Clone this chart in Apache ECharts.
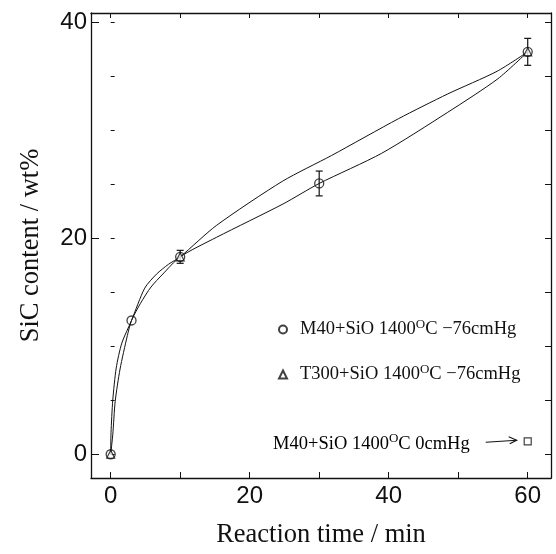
<!DOCTYPE html>
<html>
<head>
<meta charset="utf-8">
<script src="https://cdn.jsdelivr.net/npm/echarts@6/dist/echarts.min.js"></script>
<style>html,body{margin:0;padding:0;background:#fff;}#c{width:556px;height:554px;}</style>
</head>
<body>
<div id="c"></div>
<script>
// ---- data ----
const m40Time = [0, 3, 10, 30, 60];
const m40Sic = [0, 12.4, 18.3, 25.1, 37.3];
const t300Time = [0, 10, 60];
const t300Sic = [0, 18.3, 37.3];
const vacTime = [60];
const vacSic = [1.2];
const errTime = [10, 30, 60];
const errCenter = [18.3, 25.1, 37.3];
const errHalf = [0.6, 1.15, 1.25];
// fitted curves
const fitAx = [0, 0.05, 0.3, 0.8, 1.6, 3, 4.9, 6.6, 8.3, 10, 15.2, 24.7, 31.8, 41.4, 48.5, 55.6, 60];
const fitAy = [0, 2.0, 5.0, 8.0, 10.3, 12.4, 15.4, 16.7, 17.6, 18.3, 21.2, 25.3, 27.7, 31.1, 33.4, 35.5, 37.3];
const fitBx = [0, 0.3, 0.65, 1.35, 2.4, 3, 4.3, 5.8, 7.5, 10, 15.2, 24.8, 30, 39, 48.5, 55.7, 60];
const fitBy = [0, 1.8, 4.9, 7.9, 11.0, 12.4, 14.0, 15.5, 16.7, 18.3, 20.1, 23.2, 25.1, 27.9, 31.7, 34.8, 37.3];
// axes
const xTicks = [0, 10, 20, 30, 40, 50, 60];
const xLabels = [0, 20, 40, 60];
const yMajor = [0, 20, 40];
const yMinor = [0, 5, 10, 15, 20, 25, 30, 35, 40];
const xTitle = 'Reaction time / min';
const yTitle = 'SiC content / wt%';
const names = ['M40', 'T300', 'M40vac'];
const legendLabels = {
  M40: ['M40+SiO 1400', 'O', 'C \u221276cmHg'],
  T300: ['T300+SiO 1400', 'O', 'C \u221276cmHg'],
  M40vac: ['M40+SiO 1400', 'O', 'C 0cmHg']
};

const XMIN = -2.83, XMAX = 63.35, YMIN = -2.2, YMAX = 40.9;
const zip = (a, b) => a.map((v, i) => [v, b[i]]);
const lineStyle = {color: '#111', width: 1.3};
const serif = 'Liberation Serif';
const sans = 'Liberation Sans';

const chart = echarts.init(document.getElementById('c'), null, {renderer: 'canvas'});
const rich = {
  g: {width: 8},
  t: {fontFamily: serif, fontSize: 18.5, color: '#111'},
  s: {fontFamily: serif, fontSize: 13, color: '#111', padding: [0, 0, 10, 0]}
};
const fmt = n => '{t|' + legendLabels[n][0] + '}{s|' + legendLabels[n][1] + '}{t|' + legendLabels[n][2] + '}';
const fmtLegend = n => '{g|}' + fmt(n);

const option = {
  animation: false,
  backgroundColor: '#fff',
  grid: {left: 91, right: 5, top: 13, bottom: 70, containLabel: false},
  xAxis: [
    {type: 'value', position: 'bottom', min: XMIN, max: XMAX,
     axisLine: {onZero: false, lineStyle},
     axisTick: {inside: true, length: 6, customValues: xTicks, lineStyle: {color: '#111', width: 1}},
     axisLabel: {customValues: xLabels, fontFamily: sans, fontSize: 24, color: '#111', margin: 6},
     splitLine: {show: false},
     name: xTitle, nameLocation: 'middle', nameGap: 44,
     nameTextStyle: {fontFamily: serif, fontSize: 26.5, color: '#111'}},
    {type: 'value', position: 'top', min: XMIN, max: XMAX,
     axisLine: {onZero: false, lineStyle},
     axisTick: {inside: true, length: 5, customValues: xTicks, lineStyle: {color: '#111', width: 1}},
     axisLabel: {show: false}, splitLine: {show: false}}
  ],
  yAxis: [
    {type: 'value', position: 'left', min: YMIN, max: YMAX,
     axisLine: {onZero: false, lineStyle},
     axisTick: {inside: true, length: 8, customValues: yMajor, lineStyle: {color: '#111', width: 1}},
     axisLabel: {customValues: yMajor, fontFamily: sans, fontSize: 24, color: '#111', margin: 4},
     splitLine: {show: false},
     name: yTitle, nameLocation: 'middle', nameGap: 46,
     nameTextStyle: {fontFamily: serif, fontSize: 26.5, color: '#111'}},
    {type: 'value', position: 'left', min: YMIN, max: YMAX,
     axisLine: {show: false},
     axisTick: {inside: true, length: 4, customValues: yMinor, lineStyle: {color: '#111', width: 1}},
     axisLabel: {show: false}, splitLine: {show: false}},
    {type: 'value', position: 'right', min: YMIN, max: YMAX,
     axisLine: {onZero: false, lineStyle},
     axisTick: {inside: true, length: 6, customValues: yMinor, lineStyle: {color: '#111', width: 1}},
     axisLabel: {show: false}, splitLine: {show: false}}
  ],
  legend: {
    orient: 'vertical', left: 273, top: 313, itemGap: 24,
    itemWidth: 8, itemHeight: 8,
    data: [{name: names[0], icon: 'circle'}, {name: names[1], icon: 'triangle'}],
    formatter: fmtLegend, textStyle: {rich}
  },
  series: [
    {type: 'line', data: zip(fitAx, fitAy), smooth: 0.25, symbol: 'none',
     lineStyle: {color: '#111', width: 1}, silent: true, z: 2},
    {type: 'line', data: zip(fitBx, fitBy), smooth: 0.25, symbol: 'none',
     lineStyle: {color: '#111', width: 1}, silent: true, z: 2},
    {type: 'custom', z: 3,
     data: errTime.map((t, i) => [t, errCenter[i] - errHalf[i], errCenter[i] + errHalf[i]]),
     renderItem: (params, api) => {
       const lo = api.coord([api.value(0), api.value(1)]);
       const hi = api.coord([api.value(0), api.value(2)]);
       const w = 3.5;
       const st = {stroke: '#111', lineWidth: 1.2};
       return {type: 'group', children: [
         {type: 'line', shape: {x1: lo[0], y1: lo[1], x2: hi[0], y2: hi[1]}, style: st},
         {type: 'line', shape: {x1: lo[0] - w, y1: lo[1], x2: lo[0] + w, y2: lo[1]}, style: st},
         {type: 'line', shape: {x1: hi[0] - w, y1: hi[1], x2: hi[0] + w, y2: hi[1]}, style: st}
       ]};
     }},
    {name: names[1], type: 'scatter', data: zip(t300Time, t300Sic), symbol: 'triangle', symbolSize: 8,
     itemStyle: {color: '#fff', borderColor: '#111', borderWidth: 1.2}, z: 4},
    {name: names[0], type: 'scatter', data: zip(m40Time, m40Sic), symbol: 'circle', symbolSize: 9,
     itemStyle: {color: 'rgba(255,255,255,0)', borderColor: '#111', borderWidth: 1.3}, z: 5},
    {name: names[2], type: 'scatter', data: zip(vacTime, vacSic), symbol: 'rect', symbolSize: 7,
     itemStyle: {color: '#fff', borderColor: '#111', borderWidth: 1.2}, z: 5}
  ]
};
chart.setOption(option);

// third annotation: text + arrow pointing at the 0cmHg point
const p = chart.convertToPixel({gridIndex: 0}, [vacTime[0], vacSic[0]]);
chart.setOption({
  graphic: [
    {type: 'text', right: 556 - (p[0] - 58), top: p[1] - 9,
     style: {text: fmt(names[2]), rich, align: 'right'}},
    {type: 'line', shape: {x1: p[0] - 42, y1: p[1] + 1, x2: p[0] - 11, y2: p[1] - 1},
     style: {stroke: '#111', lineWidth: 1.1}},
    {type: 'polyline', shape: {points: [[p[0] - 19, p[1] - 4.5], [p[0] - 11, p[1] - 1], [p[0] - 18, p[1] + 2.5]]},
     style: {stroke: '#111', lineWidth: 1.1, fill: null}}
  ]
});
</script>
</body>
</html>
